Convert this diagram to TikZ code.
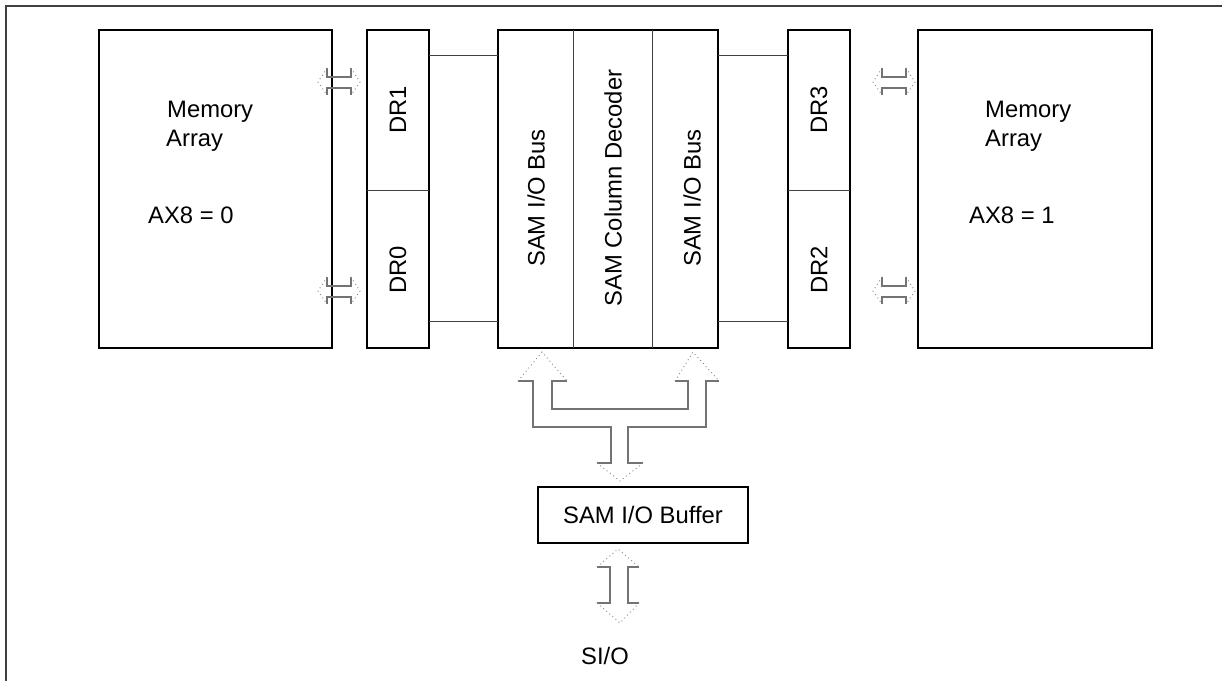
\documentclass[tikz,border=0pt]{standalone}
\usepackage{fontspec}
\setmainfont{Liberation Sans}
\usetikzlibrary{calc}
\begin{document}
\begin{tikzpicture}[x=1pt,y=-1pt,
  box/.style={draw=black,line width=2.2pt,inner sep=0pt,outer sep=0pt,anchor=north west},
  thin/.style={draw=black!75,line width=0.9pt},
  lbl/.style={inner sep=0pt,font=\fontsize{23.8}{28}\selectfont},
  vlbl/.style={inner sep=0pt,rotate=90,font=\fontsize{23.8}{28}\selectfont},
  shaft/.style={draw=black!55,line width=1.3pt},
  head/.style={draw=black!45,line width=1pt,dash pattern=on 0.9pt off 3.2pt}]
\useasboundingbox (0,0) rectangle (1222,680);
\draw[black!75,line width=1.5pt] (6,690) -- (6,6) -- (1230,6);
% boxes
\node[box,minimum width=233,minimum height=318] (mL) at (99,30) {};
\node[box,minimum width=62,minimum height=318] (dL) at (367,30) {};
\node[box,minimum width=220,minimum height=318] (c) at (498,30) {};
\node[box,minimum width=62,minimum height=318] (dR) at (788,30) {};
\node[box,minimum width=234,minimum height=318] (mR) at (918,30) {};
\node[box,minimum width=210,minimum height=56] (buf) at (538,487) {};
% dividers
\draw[thin] ($(dL.north west)+(0,160)$) -- ($(dL.north east)+(0,160)$);
\draw[thin] ($(dR.north west)+(0,160)$) -- ($(dR.north east)+(0,160)$);
\draw[thin] ($(c.north west)+(75,0)$) -- ($(c.south west)+(75,0)$);
\draw[thin] ($(c.north west)+(154,0)$) -- ($(c.south west)+(154,0)$);
% connectors
\draw[thin] ($(dL.north east)+(0,25)$) -- ($(c.north west)+(0,25)$);
\draw[thin] ($(dL.south east)+(0,-27)$) -- ($(c.south west)+(0,-27)$);
\draw[thin] ($(c.north east)+(0,25)$) -- ($(dR.north west)+(0,25)$);
\draw[thin] ($(c.south east)+(0,-27)$) -- ($(dR.south west)+(0,-27)$);
% texts
\node[lbl,anchor=west] (t1) at (167,112) {Memory};
\node[lbl,anchor=west] (t2) at (166,141) {Array};
\node[lbl,anchor=west] (t3) at (148,215) {AX8 = 0};
\node[lbl,anchor=west] (t4) at (985,112) {Memory};
\node[lbl,anchor=west] (t5) at (985,141) {Array};
\node[lbl,anchor=west] (t6) at (969,215) {AX8 = 1};
\node[vlbl] (r1) at (398,110) {DR1};
\node[vlbl] (r0) at (398,270) {DR0};
\node[vlbl] (r3) at (819,110) {DR3};
\node[vlbl] (r2) at (819,270) {DR2};
\node[vlbl] (b1) at (536,198) {SAM I/O Bus};
\node[vlbl] (cd) at (613,188) {SAM Column Decoder};
\node[vlbl] (b2) at (692,198) {SAM I/O Bus};
\node[lbl] (bt) at (643,515) {SAM I/O Buffer};
\node[lbl] (sio) at (605,656) {SI/O};
% horizontal double arrows
\foreach \xa/\xb/\yc in {327/351/82, 327/351/291, 882/906/82, 882/906/291}{
  \draw[shaft] (\xa,\yc-14) -- (\xa,\yc-5) -- (\xb,\yc-5) -- (\xb,\yc-14);
  \draw[shaft] (\xa,\yc+13) -- (\xa,\yc+6) -- (\xb,\yc+6) -- (\xb,\yc+13);
  \draw[head] (\xa,\yc-14) -- (\xa-9,\yc) -- (\xa,\yc+13);
  \draw[head] (\xb,\yc-14) -- (\xb+9,\yc) -- (\xb,\yc+13);
}
% bus arrow
\draw[shaft] (518,381) -- (533,381) -- (533,427) -- (611,427) -- (611,463) -- (597,463);
\draw[shaft] (719,381) -- (706,381) -- (706,427) -- (628,427) -- (628,463) -- (643,463);
\draw[shaft] (567,381) -- (552,381) -- (552,409) -- (688,409) -- (688,381) -- (675,381);
\draw[head] (518,381) -- (542,352) -- (567,381);
\draw[head] (675,381) -- (693,352) -- (719,381);
\draw[head] (597,463) -- (620,481) -- (643,463);
% SI/O arrow
\draw[shaft] (597,567) -- (610,567) -- (610,603) -- (597,603);
\draw[shaft] (639,567) -- (628,567) -- (628,603) -- (639,603);
\draw[head] (597,567) -- (618,549) -- (639,567);
\draw[head] (597,603) -- (620,623) -- (639,603);
\end{tikzpicture}
\end{document}
